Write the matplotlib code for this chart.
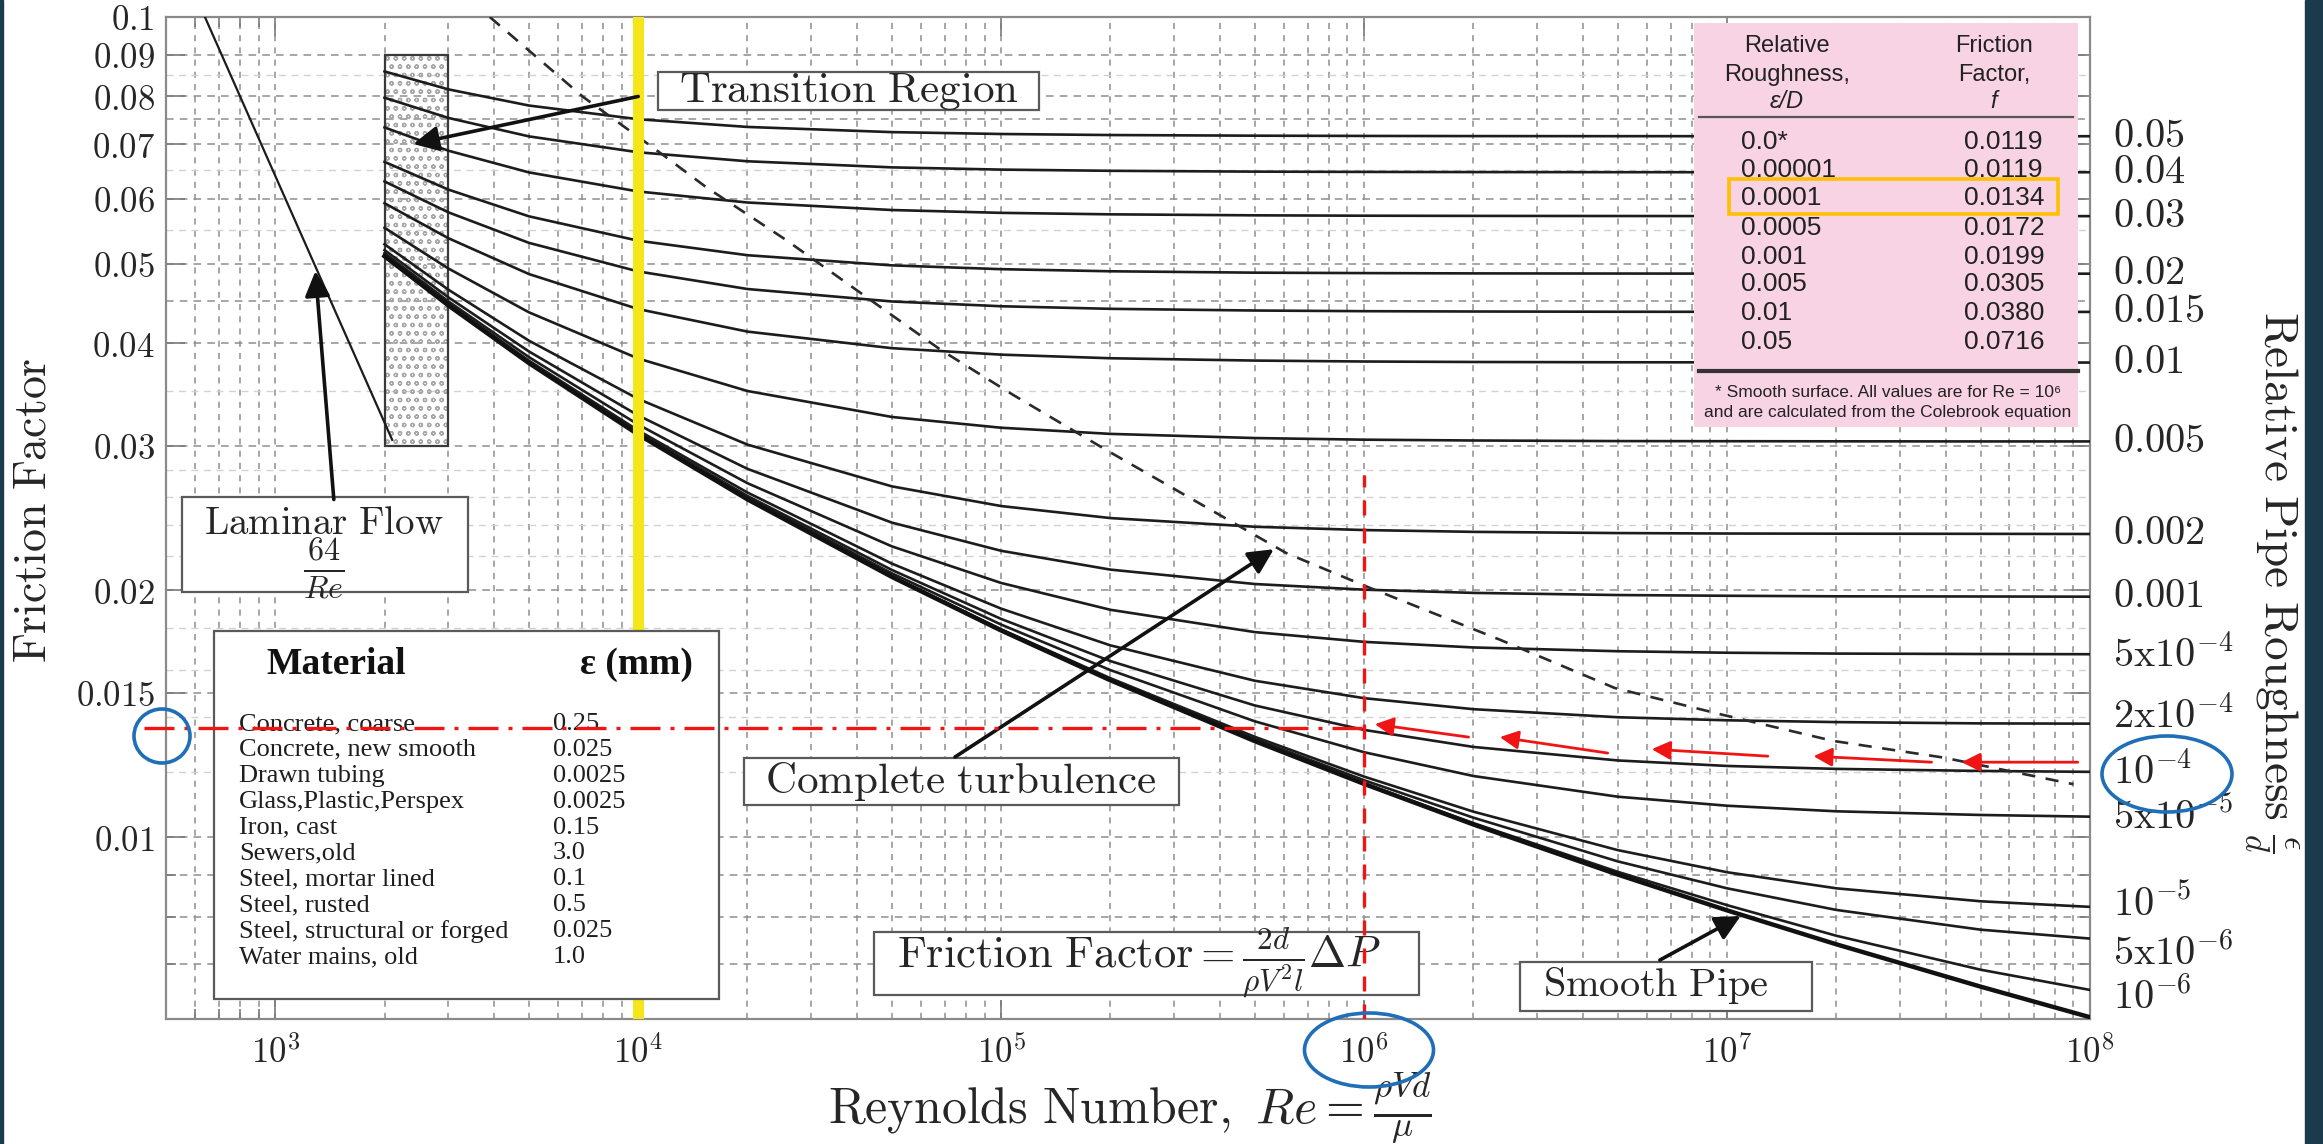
import matplotlib
matplotlib.use("Agg")
import matplotlib.pyplot as plt
from matplotlib.patches import Rectangle, Ellipse
from matplotlib.ticker import NullFormatter

plt.rcParams['mathtext.fontset'] = 'cm'
plt.rcParams['font.family'] = ['DejaVu Serif']
plt.rcParams['hatch.linewidth'] = 0.9

# ---- data ----
re_pts = [2e3, 3e3, 5e3, 1e4, 2e4, 5e4, 1e5, 2e5, 5e5, 1e6, 2e6, 5e6, 1e7, 2e7, 5e7, 1e8]

f_0p05 = [0.08583, 0.08161, 0.07799, 0.07505, 0.07344, 0.07238, 0.07200, 0.07179, 0.07166, 0.07161, 0.07158, 0.07156, 0.07156, 0.07155, 0.07155, 0.07155]
f_0p04 = [0.07972, 0.07532, 0.07152, 0.06840, 0.06669, 0.06556, 0.06515, 0.06493, 0.06478, 0.06473, 0.06470, 0.06468, 0.06467, 0.06467, 0.06467, 0.06467]
f_0p03 = [0.07334, 0.06870, 0.06464, 0.06127, 0.05940, 0.05816, 0.05770, 0.05746, 0.05730, 0.05724, 0.05721, 0.05719, 0.05718, 0.05717, 0.05717, 0.05717]
f_0p02 = [0.06658, 0.06159, 0.05714, 0.05336, 0.05123, 0.04979, 0.04926, 0.04897, 0.04878, 0.04872, 0.04868, 0.04866, 0.04865, 0.04864, 0.04864, 0.04864]
f_0p015 = [0.06302, 0.05778, 0.05304, 0.04895, 0.04659, 0.04499, 0.04439, 0.04407, 0.04386, 0.04378, 0.04374, 0.04371, 0.04370, 0.04369, 0.04369, 0.04369]
f_0p01 = [0.05928, 0.05373, 0.04859, 0.04404, 0.04134, 0.03946, 0.03875, 0.03836, 0.03811, 0.03801, 0.03796, 0.03793, 0.03792, 0.03791, 0.03790, 0.03790]
f_0p005 = [0.05533, 0.04935, 0.04364, 0.03833, 0.03499, 0.03253, 0.03156, 0.03102, 0.03066, 0.03052, 0.03045, 0.03040, 0.03039, 0.03038, 0.03037, 0.03037]
f_0p002 = [0.05283, 0.04650, 0.04030, 0.03422, 0.03010, 0.02677, 0.02533, 0.02449, 0.02390, 0.02368, 0.02356, 0.02348, 0.02345, 0.02344, 0.02343, 0.02342]
f_0p001 = [0.05197, 0.04551, 0.03910, 0.03267, 0.02812, 0.02418, 0.02234, 0.02119, 0.02035, 0.02003, 0.01985, 0.01973, 0.01969, 0.01966, 0.01965, 0.01964]
f_5em4 = [0.05153, 0.04500, 0.03848, 0.03184, 0.02701, 0.02262, 0.02041, 0.01893, 0.01778, 0.01730, 0.01703, 0.01685, 0.01678, 0.01674, 0.01672, 0.01671]
f_2em4 = [0.05127, 0.04470, 0.03810, 0.03132, 0.02631, 0.02155, 0.01899, 0.01713, 0.01551, 0.01477, 0.01432, 0.01400, 0.01388, 0.01381, 0.01376, 0.01375]
f_1em4 = [0.05118, 0.04459, 0.03797, 0.03115, 0.02606, 0.02117, 0.01845, 0.01639, 0.01447, 0.01351, 0.01288, 0.01240, 0.01221, 0.01211, 0.01204, 0.01201]
f_5em5 = [0.05114, 0.04454, 0.03791, 0.03106, 0.02594, 0.02097, 0.01816, 0.01598, 0.01384, 0.01269, 0.01187, 0.01120, 0.01092, 0.01075, 0.01064, 0.01059]
f_1em5 = [0.05110, 0.04450, 0.03786, 0.03099, 0.02584, 0.02080, 0.01792, 0.01562, 0.01325, 0.01185, 0.01074, 0.00964, 0.00906, 0.00866, 0.00835, 0.00822]
f_5em6 = [0.05110, 0.04450, 0.03785, 0.03098, 0.02583, 0.02078, 0.01789, 0.01558, 0.01317, 0.01173, 0.01056, 0.00934, 0.00866, 0.00815, 0.00771, 0.00752]
f_1em6 = [0.05110, 0.04450, 0.03785, 0.03097, 0.02582, 0.02076, 0.01787, 0.01554, 0.01311, 0.01163, 0.01040, 0.00907, 0.00826, 0.00758, 0.00689, 0.00651]
f_smooth = [0.05109, 0.04449, 0.03784, 0.03097, 0.02581, 0.02076, 0.01786, 0.01553, 0.01309, 0.01161, 0.01036, 0.00900, 0.00814, 0.00740, 0.00657, 0.00603]

rough_labels = ['0.05', '0.04', '0.03', '0.02', '0.015', '0.01', '0.005', '0.002', '0.001',
                r'5\mathrm{x}10^{-4}', r'2\mathrm{x}10^{-4}', r'10^{-4}', r'5\mathrm{x}10^{-5}',
                r'10^{-5}', r'5\mathrm{x}10^{-6}', r'10^{-6}']
rough_curves = [f_0p05, f_0p04, f_0p03, f_0p02, f_0p015, f_0p01, f_0p005, f_0p002, f_0p001,
                f_5em4, f_2em4, f_1em4, f_5em5, f_1em5, f_5em6, f_1em6]
label_nudge = [0, 0, 0, 0, 0, 0, 0, 0, 0, 0, 6, 0, 0, 2, -10, -5]

lam_re = [640, 2100]
lam_f = [0.1, 0.0305]

turb_re = [3.9e3, 4.63e3, 7.05e3, 1.17e4, 1.54e4, 2.55e4, 6.8e4, 1.08e5, 1.96e5, 3.27e5, 6.1e5,
           9.9e5, 2.37e6, 4.9e6, 9.7e6, 1.96e7, 3.95e7, 9.0e7]
turb_f = [0.100, 0.0937, 0.0799, 0.0679, 0.0620, 0.0535, 0.0393, 0.0346, 0.0296, 0.0260, 0.0222,
          0.0203, 0.0174, 0.0152, 0.0141, 0.0131, 0.0125, 0.0116]

f_read = 0.0136       # read-off friction factor (red dash-dot)
re_read = 1e6         # Reynolds number of interest
red_arrow_tail = [(9.25e7, 0.01234), (3.66e7, 0.01234), (1.295e7, 0.01255), (4.69e6, 0.01266), (1.94e6, 0.01324)]
red_arrow_head = [(4.43e7, 0.01234), (1.73e7, 0.01255), (6.2e6, 0.01280), (2.365e6, 0.01324), (1.07e6, 0.01373)]

materials = ['Concrete, coarse', 'Concrete, new smooth', 'Drawn tubing', 'Glass,Plastic,Perspex',
             'Iron, cast', 'Sewers,old', 'Steel, mortar lined', 'Steel, rusted',
             'Steel, structural or forged', 'Water mains, old']
eps_mm = ['0.25', '0.025', '0.0025', '0.0025', '0.15', '3.0', '0.1', '0.5', '0.025', '1.0']

tab_rough = ['0.0*', '0.00001', '0.0001', '0.0005', '0.001', '0.005', '0.01', '0.05']
tab_f = ['0.0119', '0.0119', '0.0134', '0.0172', '0.0199', '0.0305', '0.0380', '0.0716']

y_ticks = [0.01, 0.015, 0.02, 0.03, 0.04, 0.05, 0.06, 0.07, 0.08, 0.09, 0.1]
y_ticklabels = ['0.01', '0.015', '0.02', '0.03', '0.04', '0.05', '0.06', '0.07', '0.08', '0.09', '0.1']

# ---- figure ----
W, H = 2323, 1144
fig = plt.figure(figsize=(W / 100, H / 100), dpi=100)
ax = fig.add_axes([166 / W, 1 - 1019 / H, 1924 / W, 1002 / H])
ax.set_xscale('log')
ax.set_yscale('log')
ax.set_xlim(500, 1e8)
ax.set_ylim(0.006, 0.1)

txt = '#262626'
grid_c = '#8e8e8e'

# grid
x_grid = [600, 700, 800, 900] + [k * 10 ** d for d in range(3, 8) for k in range(1, 10)]
for xv in x_grid:
    ax.axvline(xv, color=grid_c, lw=1.1, ls=(0, (4, 4)), zorder=1)
for yv in [0.007, 0.008, 0.009, 0.01, 0.015, 0.02, 0.03, 0.04, 0.045, 0.05, 0.06, 0.07, 0.075, 0.08, 0.09]:
    ax.axhline(yv, color=grid_c, lw=1.1, ls=(0, (5, 4)), zorder=1)
for yv in [0.012, 0.014, 0.016, 0.018, 0.022, 0.024, 0.026, 0.028, 0.035, 0.055, 0.065, 0.085]:
    ax.axhline(yv, color='#d2d2d2', lw=1.0, ls=(0, (5, 4)), zorder=1)

# ticks
ax.set_xticks([1e3, 1e4, 1e5, 1e6, 1e7, 1e8])
ax.set_xticklabels([r'$10^{%d}$' % k for k in range(3, 9)])
ax.set_xticks([600, 700, 800, 900], minor=True)
ax.xaxis.set_minor_formatter(NullFormatter())
ax.set_yticks(y_ticks)
ax.set_yticklabels(['$' + s + '$' for s in y_ticklabels])
ax.set_yticks([0.007, 0.008, 0.009], minor=True)
ax.yaxis.set_minor_formatter(NullFormatter())
ax.tick_params(which='both', direction='in', top=True, right=True, color='#7a7a7a', width=1.2)
ax.tick_params(which='major', length=14)
ax.tick_params(which='minor', length=7)
ax.tick_params(axis='x', labelsize=25, pad=12, labelcolor=txt)
ax.tick_params(axis='y', labelsize=25, pad=8, labelcolor=txt)
for sp in ax.spines.values():
    sp.set_color('#8a8a8a')
    sp.set_linewidth(1.6)

# transition hatch box
ax.add_patch(Rectangle((2000, 0.03), 1000, 0.06, facecolor='none', edgecolor='#a6a6a6',
                       hatch='oo', lw=0, zorder=2))
ax.add_patch(Rectangle((2000, 0.03), 1000, 0.06, fill=False, edgecolor='#3a3a3a', lw=1.6, zorder=3))

# curves
for vals in rough_curves:
    ax.plot(re_pts, vals, color='#1c1c1c', lw=1.9, zorder=3)
ax.plot(re_pts, f_smooth, color='#111111', lw=3.2, zorder=3)
ax.plot(lam_re, lam_f, color='#1c1c1c', lw=1.6, zorder=3)
ax.plot(turb_re, turb_f, color='#2a2a2a', lw=1.9, ls=(0, (5, 4)), zorder=3)

# yellow marker at Re = 1e4
ax.axvline(1e4, color='#F4E61A', lw=8, zorder=4)

# right side roughness labels
for lab, vals, dy in zip(rough_labels, rough_curves, label_nudge):
    ax.annotate('$' + lab + '$', xy=(1.012, vals[-1]), xycoords=('axes fraction', 'data'),
                xytext=(0, dy), textcoords='offset points', ha='left', va='center',
                fontsize=29, color=txt, annotation_clip=False)


def box(x0, y0, x1, y1, z=6, ec='#5a5a5a', lw=1.6):
    ax.add_patch(Rectangle((x0, y0), x1 - x0, y1 - y0, transform=ax.transAxes,
                           facecolor='white', edgecolor=ec, lw=lw, zorder=z))


# annotation boxes
box(0.2557, 0.9072, 0.4537, 0.9451)
ax.text(0.3547, 0.9261, r'$\mathrm{Transition\ Region}$', transform=ax.transAxes,
        ha='center', va='center', fontsize=31, color=txt, zorder=7)

box(0.0083, 0.4261, 0.1570, 0.5210)
ax.text(0.0821, 0.4950, r'$\mathrm{Laminar\ Flow}$', transform=ax.transAxes,
        ha='center', va='center', fontsize=28, color=txt, zorder=7)
ax.text(0.0821, 0.4490, r'$\frac{64}{Re}$', transform=ax.transAxes,
        ha='center', va='center', fontsize=33, color=txt, zorder=7)

box(0.3004, 0.2136, 0.5265, 0.2605)
ax.text(0.4132, 0.2375, r'$\mathrm{Complete\ turbulence}$', transform=ax.transAxes,
        ha='center', va='center', fontsize=31, color=txt, zorder=7)

box(0.3680, 0.0240, 0.6512, 0.0868)
ax.text(0.5057, 0.0560, r'$\mathrm{Friction\ Factor} = \frac{2d}{\rho V^2 l}\Delta P$',
        transform=ax.transAxes, ha='center', va='center', fontsize=32, color=txt, zorder=7)

box(0.7037, 0.0080, 0.8555, 0.0569)
ax.text(0.7744, 0.0330, r'$\mathrm{Smooth\ Pipe}$', transform=ax.transAxes,
        ha='center', va='center', fontsize=29, color=txt, zorder=7)

# material table
box(0.0249, 0.0200, 0.2874, 0.3872)
ax.text(0.0884, 0.3533, 'Material', transform=ax.transAxes, ha='center', va='center',
        fontsize=27, fontweight='bold', family='Liberation Serif', color='#111', zorder=7)
ax.text(0.2443, 0.3533, 'ε (mm)', transform=ax.transAxes, ha='center', va='center',
        fontsize=27, fontweight='bold', family='Liberation Serif', color='#111', zorder=7)
row_y = [0.2944 - i * 0.02584 for i in range(len(materials))]
for name, val, yy in zip(materials, eps_mm, row_y):
    ax.text(0.0379, yy, name, transform=ax.transAxes, ha='left', va='center',
            fontsize=19, family='Liberation Serif', color='#1e1e1e', zorder=7)
    ax.text(0.2011, yy, val, transform=ax.transAxes, ha='left', va='center',
            fontsize=19, family='Liberation Serif', color='#1e1e1e', zorder=7)

# pink friction factor table
ax.add_patch(Rectangle((0.7942, 0.5908), 0.1996, 0.4032, transform=ax.transAxes,
                       facecolor='#F8D3E3', edgecolor='none', zorder=6))
sans = ['Liberation Sans', 'DejaVu Sans']
for s, yy, sty in [('Relative', 0.9711, 'normal'), ('Roughness,', 0.9421, 'normal'), ('ε/D', 0.9152, 'italic')]:
    ax.text(0.8425, yy, s, transform=ax.transAxes, ha='center', va='center', fontsize=17,
            family=sans, style=sty, color='#222', zorder=7)
for s, yy, sty in [('Friction', 0.9711, 'normal'), ('Factor,', 0.9421, 'normal'), ('f', 0.9152, 'italic')]:
    ax.text(0.9500, yy, s, transform=ax.transAxes, ha='center', va='center', fontsize=17,
            family=sans, style=sty, color='#222', zorder=7)
ax.plot([0.7968, 0.9912], [0.9002, 0.9002], transform=ax.transAxes, color='#555', lw=1.6, zorder=7)
tab_y = [0.8752, 0.8473, 0.8194, 0.7894, 0.7605, 0.7335, 0.7046, 0.6756]
for a, b, yy in zip(tab_rough, tab_f, tab_y):
    ax.text(0.8186, yy, a, transform=ax.transAxes, ha='left', va='center', fontsize=19,
            family=sans, color='#222', zorder=7)
    ax.text(0.9345, yy, b, transform=ax.transAxes, ha='left', va='center', fontsize=19,
            family=sans, color='#222', zorder=7)
ax.plot([0.7968, 0.9938], [0.6467, 0.6467], transform=ax.transAxes, color='#333', lw=3, zorder=7)
ax.text(0.8950, 0.6248, '* Smooth surface. All values are for Re = 10⁶', transform=ax.transAxes,
        ha='center', va='center', fontsize=12.5, family=sans, color='#222', zorder=7)
ax.text(0.8950, 0.6048, 'and are calculated from the Colebrook equation', transform=ax.transAxes,
        ha='center', va='center', fontsize=12.5, family=sans, color='#222', zorder=7)
ax.add_patch(Rectangle((0.8124, 0.8034), 0.1710, 0.0349, transform=ax.transAxes,
                       fill=False, edgecolor='#FFC000', lw=2.6, zorder=8))

# black annotation arrows
blk = dict(arrowstyle='-|>', color='#111', lw=2.6, mutation_scale=38, shrinkA=0, shrinkB=0)
ax.annotate('', xy=(2400, 0.0700), xytext=(1.0e4, 0.0800), arrowprops=blk, zorder=8)
ax.annotate('', xy=(1290, 0.0490), xytext=(1450, 0.0258), arrowprops=blk, zorder=8)
ax.annotate('', xy=(5.64e5, 0.02244), xytext=(7.46e4, 0.01252), arrowprops=blk, zorder=8)
ax.annotate('', xy=(1.09e7, 0.00801), xytext=(6.53e6, 0.00708), arrowprops=blk, zorder=8)

# red read-off lines and arrows
ax.plot([435, re_read], [f_read, f_read], color='#F01414', lw=2.4, ls=(0, (9, 3, 1.2, 3)),
        clip_on=False, zorder=9)
ax.plot([re_read, re_read], [0.006, 0.0276], color='#F01414', lw=2.4, ls=(0, (4.5, 3.9)), zorder=9)
red = dict(arrowstyle='-|>', color='#F01414', lw=2.0, mutation_scale=28, shrinkA=0, shrinkB=0)
for tail, head in zip(red_arrow_tail, red_arrow_head):
    ax.annotate('', xy=head, xytext=tail, arrowprops=red, zorder=9)

# axis labels
fig.text(33 / W, 1 - 510 / H, r'$\mathrm{Friction\ Factor}$', rotation=90, ha='center',
         va='center', fontsize=33, color=txt)
fig.text(1130 / W, 1 - 1108 / H, r'$\mathrm{Reynolds\ Number,}\ Re = \frac{\rho V d}{\mu}$',
         ha='center', va='center', fontsize=36, color=txt)
fig.text(2271 / W, 1 - 582 / H, r'$\mathrm{Relative\ Pipe\ Roughness}\ \frac{\epsilon}{d}$',
         rotation=270, ha='center', va='center', fontsize=34, color=txt)

# slide highlights
blue = '#1F6EB8'
for cx, cy, ew, eh in [(162, 736, 56, 54), (1369, 1050, 129, 74), (2167, 774, 130, 76)]:
    fig.add_artist(Ellipse((cx / W, 1 - cy / H), ew / W, eh / H, transform=fig.transFigure,
                           fill=False, edgecolor=blue, lw=2.6, zorder=10))

# dark slide edges
fig.add_artist(Rectangle((2305 / W, 0), 18 / W, 1, transform=fig.transFigure, color='#1B3B4C', zorder=0))
fig.add_artist(Rectangle((0, 0), 3 / W, 1, transform=fig.transFigure, color='#1B3B4C', zorder=0))

fig.savefig('out.png', dpi=100)
